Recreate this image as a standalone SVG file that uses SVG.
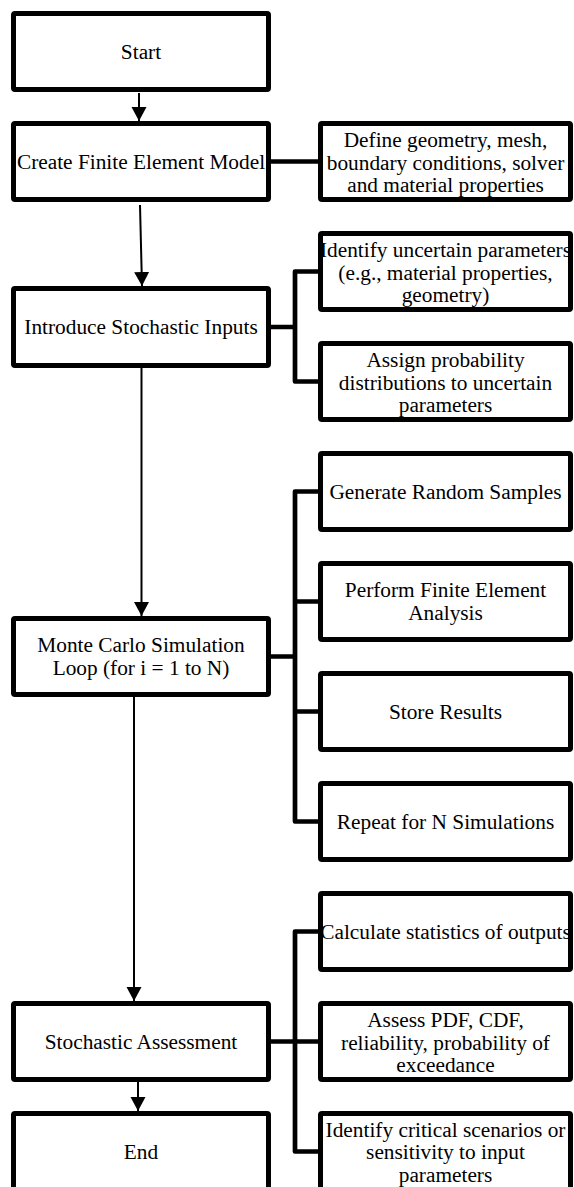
<svg xmlns="http://www.w3.org/2000/svg" width="574" height="1187" viewBox="0 0 574 1187">
<style>
.box{fill:#fff;stroke:#000;stroke-width:5}
.t{font-family:"Liberation Serif","Times New Roman",serif;font-size:21.33px;fill:#000;text-anchor:middle}
.br{fill:none;stroke:#000;stroke-width:4.7;stroke-linejoin:round}
.ar{fill:none;stroke:#000;stroke-width:2}
</style>
<defs>
<marker id="ah" markerUnits="userSpaceOnUse" markerWidth="15" markerHeight="16" refX="14" refY="7.5" orient="auto">
<path d="M0,0 L14,7.5 L0,15 z" fill="#000"/>
</marker>
</defs>
<rect width="574" height="1187" fill="#fff"/>
<g id="connectors">
<line class="ar" x1="139" y1="93" x2="139" y2="121" marker-end="url(#ah)"/>
<line class="ar" x1="140" y1="205" x2="142" y2="286" marker-end="url(#ah)"/>
<line class="ar" x1="141.5" y1="368" x2="141.5" y2="616" marker-end="url(#ah)"/>
<line class="ar" x1="134" y1="697" x2="134" y2="1001" marker-end="url(#ah)"/>
<line class="ar" x1="138" y1="1082" x2="138" y2="1111" marker-end="url(#ah)"/>
<line class="br" x1="271" y1="161.5" x2="318" y2="161.5"/>
<path class="br" d="M271,327 H295 M318,271.5 H295 V381.5 H318"/>
<path class="br" d="M271,656.5 H295 M318,491.5 H295 V821.5 H318 M295,601.5 H318 M295,711.5 H318"/>
<path class="br" d="M271,1041.5 H295 M318,931.5 H295 V1151.5 H318 M295,1041.5 H318"/>
</g>
<g id="start">
<rect class="box" x="13.5" y="13.5" width="255" height="76" rx="1.5"/>
<text class="t" x="141" y="58.5">Start</text>
</g>
<g id="create-fem">
<rect class="box" x="13.5" y="123.5" width="255" height="76" rx="1.5"/>
<text class="t" x="141" y="168.5">Create Finite Element Model</text>
</g>
<g id="define">
<rect class="box" x="320.5" y="123.5" width="250" height="76" rx="1.5"/>
<text class="t" x="445.5" y="147">Define geometry, mesh,</text>
<text class="t" x="445.5" y="169.5">boundary conditions, solver</text>
<text class="t" x="445.5" y="192">and material properties</text>
</g>
<g id="introduce">
<rect class="box" x="13.5" y="288.5" width="255" height="77" rx="1.5"/>
<text class="t" x="141" y="334">Introduce Stochastic Inputs</text>
</g>
<g id="identify-uncertain">
<rect class="box" x="320.5" y="233.5" width="250" height="76" rx="1.5"/>
<text class="t" x="445.5" y="257">Identify uncertain parameters</text>
<text class="t" x="445.5" y="279.5">(e.g., material properties,</text>
<text class="t" x="445.5" y="302">geometry)</text>
</g>
<g id="assign">
<rect class="box" x="320.5" y="343.5" width="250" height="76" rx="1.5"/>
<text class="t" x="445.5" y="367">Assign probability</text>
<text class="t" x="445.5" y="389.5">distributions to uncertain</text>
<text class="t" x="445.5" y="412">parameters</text>
</g>
<g id="monte-carlo">
<rect class="box" x="13.5" y="618.5" width="255" height="76" rx="1.5"/>
<text class="t" x="141" y="652">Monte Carlo Simulation</text>
<text class="t" x="141" y="674.5">Loop (for i = 1 to N)</text>
</g>
<g id="generate">
<rect class="box" x="320.5" y="453.5" width="250" height="76" rx="1.5"/>
<text class="t" x="445.5" y="498.5">Generate Random Samples</text>
</g>
<g id="perform">
<rect class="box" x="320.5" y="563.5" width="250" height="76" rx="1.5"/>
<text class="t" x="445.5" y="597">Perform Finite Element</text>
<text class="t" x="445.5" y="619.5">Analysis</text>
</g>
<g id="store">
<rect class="box" x="320.5" y="673.5" width="250" height="76" rx="1.5"/>
<text class="t" x="445.5" y="718.5">Store Results</text>
</g>
<g id="repeat">
<rect class="box" x="320.5" y="783.5" width="250" height="76" rx="1.5"/>
<text class="t" x="445.5" y="828.5">Repeat for N Simulations</text>
</g>
<g id="stochastic-assessment">
<rect class="box" x="13.5" y="1003.5" width="255" height="76" rx="1.5"/>
<text class="t" x="141" y="1048.5">Stochastic Assessment</text>
</g>
<g id="calculate">
<rect class="box" x="320.5" y="893.5" width="250" height="76" rx="1.5"/>
<text class="t" x="445.5" y="938.5">Calculate statistics of outputs</text>
</g>
<g id="assess">
<rect class="box" x="320.5" y="1003.5" width="250" height="76" rx="1.5"/>
<text class="t" x="445.5" y="1027">Assess PDF, CDF,</text>
<text class="t" x="445.5" y="1049.5">reliability, probability of</text>
<text class="t" x="445.5" y="1072">exceedance</text>
</g>
<g id="end">
<rect class="box" x="13.5" y="1113.5" width="255" height="76" rx="1.5"/>
<text class="t" x="141" y="1158.5">End</text>
</g>
<g id="identify-critical">
<rect class="box" x="320.5" y="1113.5" width="250" height="76" rx="1.5"/>
<text class="t" x="445.5" y="1136.5">Identify critical scenarios or</text>
<text class="t" x="445.5" y="1159">sensitivity to input</text>
<text class="t" x="445.5" y="1181.5">parameters</text>
</g>
</svg>
